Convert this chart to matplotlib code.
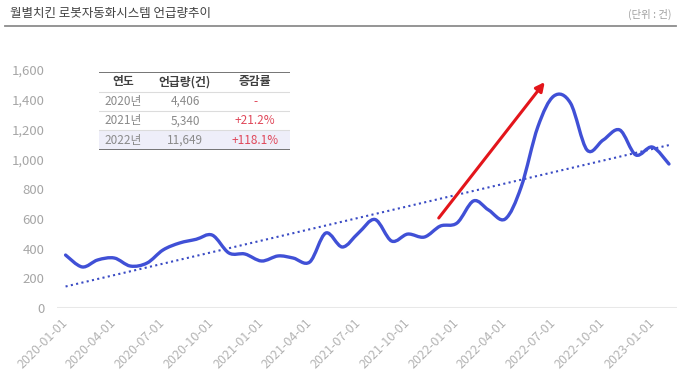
import matplotlib
matplotlib.use('Agg')
import matplotlib.pyplot as plt
import matplotlib.dates as mdates
from matplotlib.path import Path
from matplotlib.patches import PathPatch, Rectangle
from matplotlib.lines import Line2D
import numpy as np
import pandas as pd

plt.rcParams['font.family'] = ['Noto Sans CJK KR', 'DejaVu Sans']

# monthly mention counts, 2020-01 .. 2023-02
months = pd.date_range('2020-01-01', '2023-02-01', freq='MS')
mentions = [356, 276, 323, 336, 282, 302, 390, 437, 462, 490, 370, 363,
            316, 350, 336, 309, 504, 410, 504, 595, 450, 497, 477, 551,
            571, 720, 659, 598, 814, 1217, 1425, 1378, 1062, 1129, 1197, 1029,
            1082, 968]
tick_dates = pd.date_range('2020-01-01', '2023-01-01', freq='QS')
y_ticks = [0, 200, 400, 600, 800, 1000, 1200, 1400, 1600]

table_header = ['연도', '언급량(건)', '증감률']
table_years = ['2020년', '2021년', '2022년']
table_counts = ['4,406', '5,340', '11,649']
table_changes = ['-', '+21.2%', '+118.1%']

arrow_start = ('2021-11-28', 605)
arrow_end = ('2022-06-14', 1519)

title = '월별치킨 로봇자동화시스템 언급량추이'
unit = '(단위 : 건)'

fig = plt.figure(figsize=(6.8, 3.83), dpi=100)
ax = fig.add_axes([57 / 680, 75 / 383, 620 / 680, 238 / 383])

x = mdates.date2num(months)
y = np.array(mentions, dtype=float)

# smoothed line (Catmull-Rom style bezier through the points)
verts = [(x[0], y[0])]
codes = [Path.MOVETO]
n = len(x)
for i in range(n - 1):
    p0 = i - 1 if i > 0 else i
    p3 = i + 2 if i + 2 < n else i + 1
    c1 = (x[i] + (x[i + 1] - x[p0]) / 6, y[i] + (y[i + 1] - y[p0]) / 6)
    c2 = (x[i + 1] - (x[p3] - x[i]) / 6, y[i + 1] - (y[p3] - y[i]) / 6)
    verts += [c1, c2, (x[i + 1], y[i + 1])]
    codes += [Path.CURVE4] * 3
ax.add_patch(PathPatch(Path(verts, codes), fill=False, edgecolor='#4050d6',
                       lw=2.4, capstyle='round', joinstyle='round', zorder=3))

# linear trend
coef = np.polyfit(x, y, 1)
ax.plot(x[[0, -1]], np.polyval(coef, x[[0, -1]]), color='#3a4bc4', lw=1.5,
        linestyle=(0, (1, 1.6)), zorder=2)

ax.annotate('', xy=(mdates.datestr2num(arrow_end[0]), arrow_end[1]),
            xytext=(mdates.datestr2num(arrow_start[0]), arrow_start[1]),
            arrowprops=dict(arrowstyle='-|>', color='#e3151b', lw=2.2,
                            mutation_scale=13, shrinkA=0, shrinkB=0), zorder=4)

ax.axhline(0, color='#e8e8e8', lw=1.5, zorder=1)
ax.set_xlim(mdates.datestr2num('2019-12-16'), mdates.datestr2num('2023-02-16'))
ax.set_ylim(0, 1600)
for s in ax.spines.values():
    s.set_visible(False)

ax.set_yticks(y_ticks)
ax.set_yticklabels([f'{v:,}' for v in y_ticks])
ax.set_xticks(mdates.date2num(tick_dates))
ax.set_xticklabels(tick_dates.strftime('%Y-%m-%d'), rotation=45, ha='right',
                   va='center', rotation_mode='anchor')
ax.tick_params(axis='y', length=0, pad=9, labelsize=9.5, labelcolor='#a6a6a6')
ax.tick_params(axis='x', length=0, pad=9, labelsize=9, labelcolor='#b3b3b3')

# title and unit
fig.text(10 / 680, 1 - 13 / 383, title, fontsize=9, color='#404040', va='center')
fig.text(672 / 680, 1 - 14 / 383, unit, fontsize=7.5, color='#a0a0a0',
         va='center', ha='right')
fig.add_artist(Line2D([5 / 680, 676 / 680], [1 - 26 / 383] * 2, color='#8c8c8c', lw=1.3))

# summary table
tax = fig.add_axes([99 / 680, (383 - 150) / 383, 191 / 680, 78 / 383])
tax.set_xlim(0, 1)
tax.set_ylim(0, 4)
tax.axis('off')
tax.add_patch(Rectangle((0, 0), 1, 1, color='#eeeef9', lw=0))
col_x = [0.126, 0.45, 0.817]
for cx, h in zip(col_x, table_header):
    tax.text(cx, 3.5, h, ha='center', va='center', fontsize=8.5, fontweight='bold',
             color='#404040')
for r, (yr, cnt, chg) in enumerate(zip(table_years, table_counts, table_changes)):
    yy = 2.5 - r
    tax.text(col_x[0], yy, yr, ha='center', va='center', fontsize=8.5, color='#8a8a8a')
    tax.text(col_x[1], yy, cnt, ha='center', va='center', fontsize=8.5, color='#8a8a8a')
    tax.text(col_x[2], yy, chg, ha='center', va='center', fontsize=8.5, color='#e0485a')
for yy in [1, 2, 3]:
    tax.axhline(yy, color='#dcdcdc', lw=0.8)
tax.axhline(4, color='#6a6a6a', lw=1.3)
tax.axhline(0, color='#6a6a6a', lw=1.3)

fig.savefig('out.png', dpi=100)
